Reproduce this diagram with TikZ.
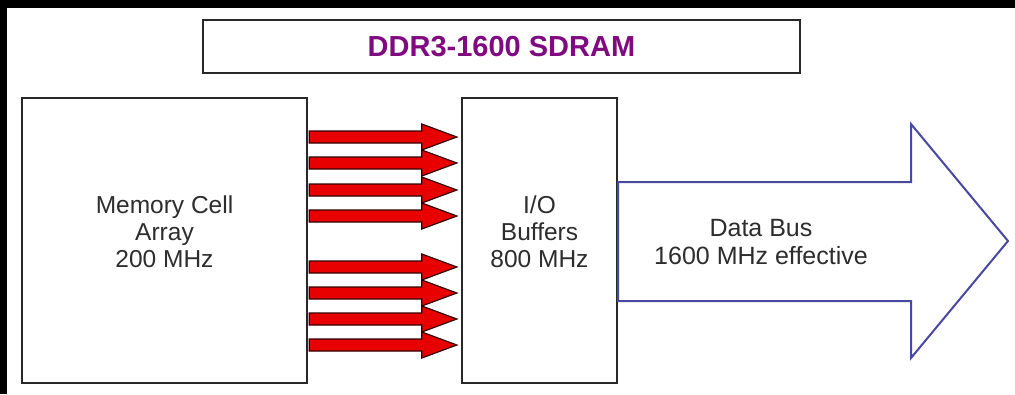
\documentclass[tikz,border=0pt]{standalone}
\usepackage{fontspec}
\setmainfont{Liberation Sans}
\usetikzlibrary{calc}
\definecolor{boxline}{RGB}{40,40,40}
\definecolor{txt}{RGB}{45,45,45}
\definecolor{titlepurple}{RGB}{128,10,128}
\definecolor{arrred}{RGB}{232,0,0}
\definecolor{arredge}{RGB}{50,0,0}
\definecolor{busblue}{RGB}{72,72,160}
\tikzset{
  blockbox/.style={draw=boxline, line width=2.4pt, fill=white, inner sep=0pt},
  blocktext/.style={align=center, text=txt, inner sep=0pt, font=\fontsize{24.5}{27}\selectfont},
  titlebox/.style={draw=boxline, line width=2.8pt, fill=white, inner sep=0pt,
    text=titlepurple, font=\fontsize{29}{32}\selectfont\bfseries},
  redarrow/.style={fill=arrred, draw=arredge, line width=1.2pt, line join=miter},
  busarrow/.style={fill=white, draw=busblue, line width=2pt, line join=miter},
  buslabel/.style={align=center, text=txt, inner sep=0pt, font=\fontsize{25}{28}\selectfont}
}
\begin{document}
\begin{tikzpicture}[x=1pt,y=-1pt]
\useasboundingbox (0,0) rectangle (1015,394);
\fill[black] (0,0) rectangle (1015,394);
\fill[white] (7,8) rectangle (1015,394);
\node[titlebox, minimum width=597pt, minimum height=53pt] (title) at (501.5,46.5) {DDR3-1600 SDRAM};
\node[blockbox, minimum width=285pt, minimum height=285pt] (mem) at (164.5,240.5) {};
\node[blocktext] (memtext) at ($(mem.center)+(0,-9)$) {Memory Cell\\Array\\200 MHz};
\node[blockbox, minimum width=155pt, minimum height=285pt] (io) at (539.5,240.5) {};
\node[blocktext] (iotext) at ($(io.center)+(0,-9)$) {I/O\\Buffers\\800 MHz};
% red data arrows from memory array to I/O buffers
\foreach \c in {137,163,190,216,267,293,319,345}{
  \draw[redarrow] ($(mem.east|-0,\c)+(1,-6)$) -- ($(io.west|-0,\c)+(-39,-6)$)
    -- ($(io.west|-0,\c)+(-39,-13)$) -- ($(io.west|-0,\c)+(-4,0)$)
    -- ($(io.west|-0,\c)+(-39,13)$) -- ($(io.west|-0,\c)+(-39,6)$)
    -- ($(mem.east|-0,\c)+(1,6)$) -- cycle;
}
% big data bus arrow
\coordinate (tip) at (1008,241);
\draw[busarrow] ($(io.east|-0,182)$) -- (911,182) -- (911,124) -- (tip)
  -- (911,358) -- (911,301) -- ($(io.east|-0,301)$) -- cycle;
\node[buslabel] (bus) at (761,242) {Data Bus\\1600 MHz effective};
\end{tikzpicture}
\end{document}
